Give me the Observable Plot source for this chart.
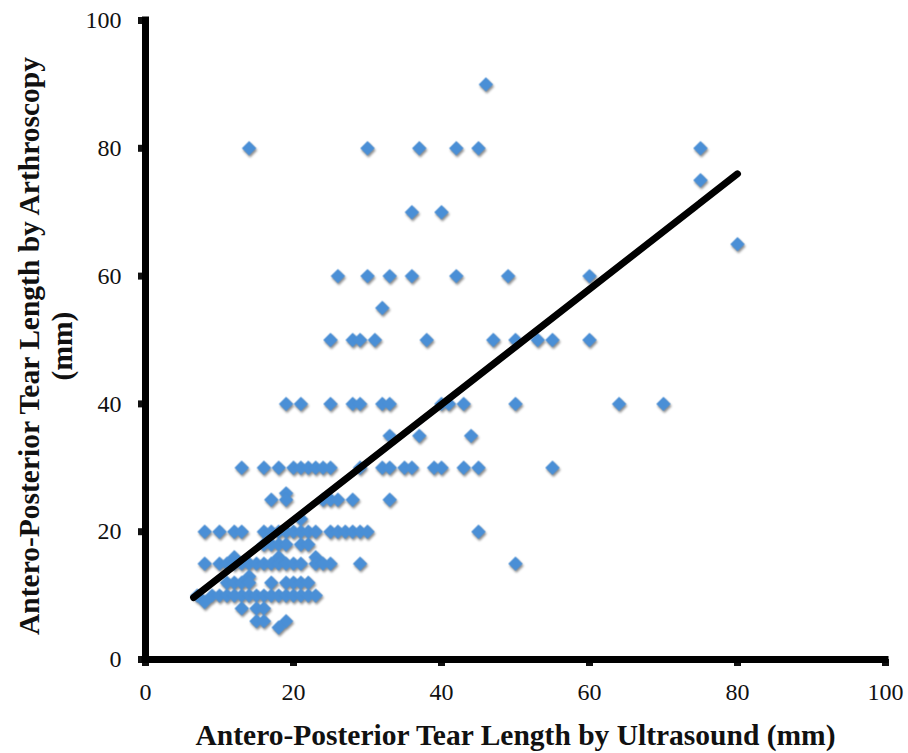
<!DOCTYPE html>
<html><head><meta charset="utf-8">
<script src="https://cdn.jsdelivr.net/npm/d3@7"></script>
<script src="https://cdn.jsdelivr.net/npm/@observablehq/plot@0.6"></script>
<style>
body{margin:0;background:#fff;}
#chart svg g[aria-label="dot"]{filter: drop-shadow(1px 2px 1.2px rgba(0,0,0,0.45));}
</style></head><body><div id="chart"></div><script>
// Arthroscopy tear length levels (mm) and the ultrasound lengths (mm) observed at each level
const arthLevels = [90, 80, 75, 70, 65, 60, 55, 50, 40, 35, 30, 26, 25, 22, 20, 18, 16, 15, 13, 12, 10, 9, 8, 6, 5];
const usAtLevel = [
  [46],
  [14, 30, 37, 42, 45, 75],
  [75],
  [36, 40],
  [80],
  [26, 30, 33, 36, 42, 49, 60],
  [32],
  [25, 28, 29, 31, 38, 47, 50, 53, 55, 60],
  [19, 21, 25, 28, 29, 32, 33, 40, 41, 43, 50, 64, 70],
  [33, 37, 44],
  [13, 16, 18, 20, 21, 22, 23, 24, 25, 29, 32, 33, 35, 36, 39, 40, 43, 45, 55],
  [19],
  [17, 19, 24, 25, 26, 28, 33],
  [21],
  [8, 10, 12, 13, 16, 17, 18, 19, 20, 21, 22, 23, 25, 26, 27, 28, 29, 30, 45],
  [16, 17, 18, 19, 21, 22],
  [12, 18, 23],
  [8, 10, 11, 12, 13, 14, 15, 16, 17, 18, 19, 20, 21, 23, 24, 25, 29, 50],
  [14],
  [11, 12, 13, 14, 17, 19, 20, 21, 22],
  [7, 9, 10, 11, 12, 13, 14, 15, 16, 17, 18, 19, 20, 21, 22, 23],
  [8],
  [13, 15, 16],
  [15, 16, 19],
  [18]
];
// Trend line end points
const fitX = [6.5, 80];
const fitY = [9.7, 76];
const xTicks = [0, 20, 40, 60, 80, 100];
const yTicks = [0, 20, 40, 60, 80, 100];
const xTitle = "Antero-Posterior Tear Length by Ultrasound (mm)";
const yTitle = "Antero-Posterior Tear Length by Arthroscopy\n(mm)";

const points = arthLevels.flatMap((y, i) => usAtLevel[i].map(x => ({x, y})));
const fit = fitX.map((x, i) => ({x, y: fitY[i]}));

const chart = Plot.plot({
  width: 908, height: 753,
  marginLeft: 145, marginRight: 23, marginTop: 20, marginBottom: 94,
  style: {fontFamily: "'Liberation Serif', 'Times New Roman', serif", fontSize: "24px", color: "#111", background: "#fff", overflow: "visible"},
  x: {domain: [0, 100]},
  y: {domain: [0, 100]},
  marks: [
    Plot.axisX({ticks: xTicks, tickSize: 7, tickPadding: 16, strokeWidth: 7, label: null, fontSize: 24}),
    Plot.axisY({ticks: yTicks, tickSize: 7, tickPadding: 17, strokeWidth: 7, label: null, fontSize: 24}),
    Plot.ruleY([0], {stroke: "#000", strokeWidth: 7, strokeLinecap: "square"}),
    Plot.ruleX([0], {stroke: "#000", strokeWidth: 7, strokeLinecap: "square"}),
    Plot.dot(points, {x: "x", y: "y", symbol: "diamond2", r: 6.5, fill: "#4a8fd6", stroke: "none"}),
    Plot.line(fit, {x: "x", y: "y", stroke: "#000", strokeWidth: 7, strokeLinecap: "round"}),
    Plot.text([xTitle], {text: d => d, frameAnchor: "bottom", textAnchor: "middle", dy: 76, lineAnchor: "middle", fontSize: 29.5, fontWeight: "bold", fill: "#111"}),
    Plot.text([yTitle], {text: d => d, frameAnchor: "left", textAnchor: "middle", dx: -101, dy: 6, rotate: -90, lineAnchor: "middle", lineHeight: 1.12, fontSize: 29.5, fontWeight: "bold", fill: "#111"})
  ]
});
document.getElementById("chart").appendChild(chart);
</script></body></html>
